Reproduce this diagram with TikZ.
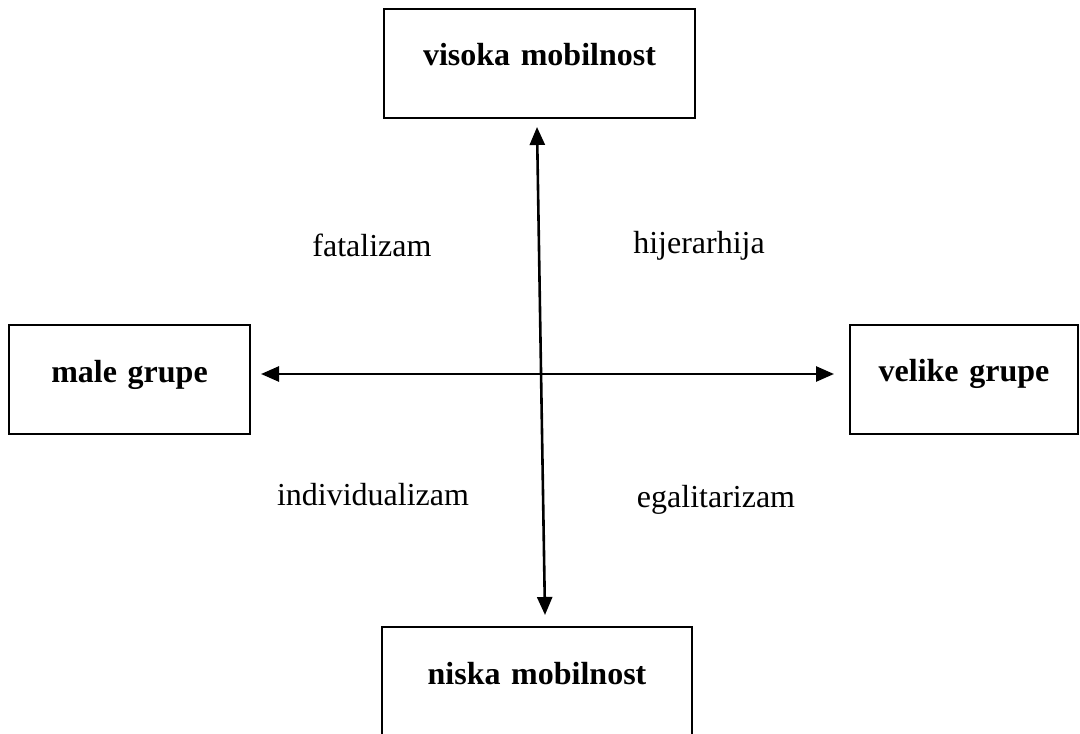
\documentclass[tikz,border=0pt]{standalone}
\usepackage{fontspec}
\setmainfont{Liberation Serif}
\usetikzlibrary{arrows.meta}
\begin{document}
\begin{tikzpicture}[x=0.5pt,y=-0.5pt,
  box/.style={draw,line width=1pt,inner sep=0pt,align=center,
    font=\fontsize{16}{19}\selectfont\bfseries,
    text height=28.5pt,text depth=26pt},
  lbl/.style={anchor=base,inner sep=0pt,font=\fontsize{16}{19}\selectfont},
  arr/.style={line width=1.3pt,{Triangle[length=9pt,width=7.5pt]}-{Triangle[length=9pt,width=7.5pt]}}]
\useasboundingbox (0,0) rectangle (1080,733);
\node[box,text width=155.5pt] (top) at (539.5,63.5) {visoka mobilnost};
\node[box,text width=120.5pt] (left) at (129.5,379.5) {male grupe};
\node[box,text width=114pt] (right) at (964,379) {velike grupe};
\node[box,text width=155pt] (bottom) at (537,681.5) {niska mobilnost};
\coordinate (vt) at (537,127);
\coordinate (vb) at (545,615);
\coordinate (hl) at (261,374);
\coordinate (hr) at (834,374);
\draw[arr] (vt) -- (vb);
\draw[arr] (hl) -- (hr);
\node[lbl] (fat) at (372,256) {fatalizam};
\node[lbl] (hij) at (699,253) {hijerarhija};
\node[lbl] (ind) at (373,505) {individualizam};
\node[lbl] (ega) at (716,507) {egalitarizam};
\end{tikzpicture}
\end{document}
